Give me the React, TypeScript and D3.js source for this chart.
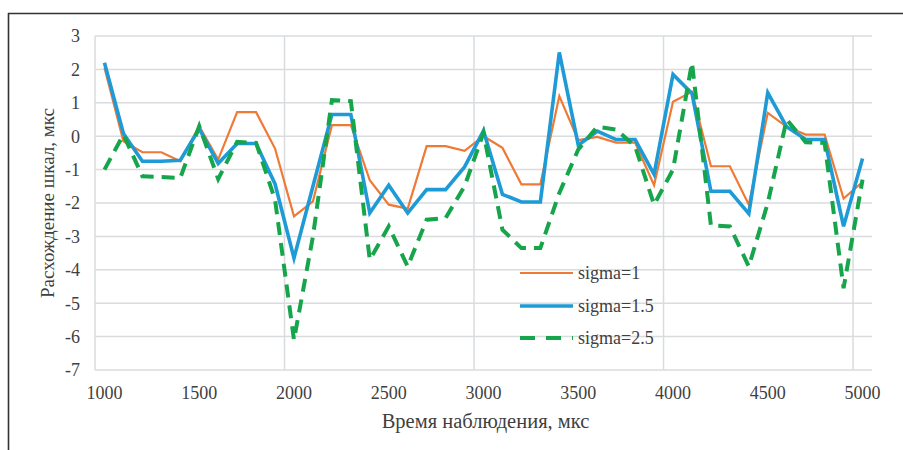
import React from "react";
import * as d3 from "d3";

const times = [1000, 1100, 1200, 1300, 1400, 1500, 1600, 1700, 1800, 1900, 2000, 2100, 2200, 2300, 2400, 2500, 2600, 2700, 2800, 2900, 3000, 3100, 3200, 3300, 3400, 3500, 3600, 3700, 3800, 3900, 4000, 4100, 4200, 4300, 4400, 4500, 4600, 4700, 4800, 4900, 5000];

const sigma1 = [2.05, -0.15, -0.48, -0.48, -0.75, 0.3, -0.7, 0.72, 0.72, -0.37, -2.4, -1.95, 0.33, 0.33, -1.32, -2.05, -2.17, -0.3, -0.3, -0.44, 0.0, -0.35, -1.44, -1.44, 1.2, -0.12, -0.02, -0.19, -0.19, -1.47, 1.03, 1.33, -0.9, -0.9, -2.05, 0.7, 0.28, 0.05, 0.05, -1.87, -1.37];

const sigma15 = [2.2, 0.08, -0.75, -0.75, -0.72, 0.22, -0.82, -0.22, -0.22, -1.43, -3.65, -1.5, 0.65, 0.65, -2.3, -1.47, -2.3, -1.6, -1.6, -0.92, 0.16, -1.74, -1.97, -1.97, 2.51, -0.27, 0.15, -0.1, -0.1, -1.14, 1.85, 1.28, -1.65, -1.65, -2.32, 1.3, 0.28, -0.1, -0.1, -2.7, -0.67];

const sigma25 = [-1.0, 0.05, -1.2, -1.22, -1.25, 0.3, -1.28, -0.17, -0.2, -1.9, -6.1, -3.0, 1.08, 1.05, -3.7, -2.7, -3.9, -2.5, -2.45, -1.5, 0.1, -2.8, -3.35, -3.35, -1.7, -0.4, 0.28, 0.2, -0.3, -2.05, -1.0, 2.2, -2.67, -2.7, -3.9, -2.0, 0.5, -0.18, -0.2, -4.55, -1.3];

const xTickLabels = [1000, 1500, 2000, 2500, 3000, 3500, 4000, 4500, 5000];
const xGridValues = [950, 1950, 2950, 3950, 4950];
const yTickLabels = [3, 2, 1, 0, -1, -2, -3, -4, -5, -6, -7];

const seriesNames = ["sigma=1", "sigma=1.5", "sigma=2.5"];

const W = 903;
const H = 450;
const plot = { left: 95, right: 872, top: 36, bottom: 370 };

const FONT = "'Liberation Serif', 'DejaVu Serif', serif";
const txt = { fontFamily: FONT } as React.CSSProperties;

export default function App() {
  const x = d3.scaleLinear().domain([950, 5050]).range([plot.left, plot.right]);
  const y = d3.scaleLinear().domain([-7, 3]).range([plot.bottom, plot.top]);

  const mk = (vals: number[]) =>
    d3
      .line<number>()
      .x((_, i) => x(times[i]))
      .y((v) => y(v))(vals) as string;

  const series = [
    { name: seriesNames[0], vals: sigma1, color: "#EF7A35", width: 2.2, dash: undefined as string | undefined },
    { name: seriesNames[1], vals: sigma15, color: "#1E9BD7", width: 3.6, dash: undefined as string | undefined },
    { name: seriesNames[2], vals: sigma25, color: "#16A54B", width: 4, dash: "13,8" },
  ];

  const legendY = [273, 306, 338];

  return (
    <svg
      width={W}
      height={H}
      style={{ position: "absolute", left: 0, top: 0, background: "#fff" }}
    >
      <rect x={0} y={0} width={W} height={H} fill="#fff" />
      {/* frame */}
      <line x1={8} y1={13.5} x2={W} y2={13.5} stroke="#333" strokeWidth={1.6} />
      <line x1={8.5} y1={13} x2={8.5} y2={H} stroke="#333" strokeWidth={1.6} />

      {/* horizontal gridlines */}
      {yTickLabels.map((v) => (
        <line key={"h" + v} x1={plot.left} x2={plot.right} y1={y(v)} y2={y(v)} stroke="#D9DCDF" strokeWidth={1.5} />
      ))}
      {/* vertical gridlines */}
      {xGridValues.map((v) => (
        <line key={"v" + v} x1={x(v)} x2={x(v)} y1={plot.top} y2={plot.bottom} stroke="#D9DCDF" strokeWidth={1.5} />
      ))}

      {/* y tick labels */}
      {yTickLabels.map((v) => (
        <text key={"yt" + v} style={txt} x={80} y={y(v)} dy="0.35em" textAnchor="end" fontSize={18} fill="#404040">
          {v < 0 ? "-" + Math.abs(v) : String(v)}
        </text>
      ))}
      {/* x tick labels */}
      {xTickLabels.map((v) => (
        <text key={"xt" + v} style={txt} x={x(v)} y={393} dy="0.35em" textAnchor="middle" fontSize={18} fill="#404040">
          {v}
        </text>
      ))}

      {/* axis titles */}
      <text style={txt} x={(plot.left + plot.right) / 2 + 2} y={421} dy="0.35em" textAnchor="middle" fontSize={20.5} fill="#404040">
        Время наблюдения, мкс
      </text>
      <text
        style={txt}
        transform={`translate(47, 203) rotate(-90)`}
        dy="0.35em"
        textAnchor="middle"
        fontSize={19}
        fill="#404040"
      >
        Расхождение шкал, мкс
      </text>

      {/* series lines */}
      {series.map((s) => (
        <path
          key={s.name}
          d={mk(s.vals)}
          fill="none"
          stroke={s.color}
          strokeWidth={s.width}
          strokeDasharray={s.dash}
          strokeLinejoin="miter"
        />
      ))}

      {/* legend */}
      {series.map((s, i) => (
        <g key={"lg" + s.name}>
          <line
            x1={520}
            x2={573}
            y1={legendY[i]}
            y2={legendY[i]}
            stroke={s.color}
            strokeWidth={s.width}
            strokeDasharray={s.dash ? "15,11" : undefined}
          />
          <text style={txt} x={578} y={legendY[i]} dy="0.35em" fontSize={18} fill="#404040">
            {s.name}
          </text>
        </g>
      ))}
    </svg>
  );
}
